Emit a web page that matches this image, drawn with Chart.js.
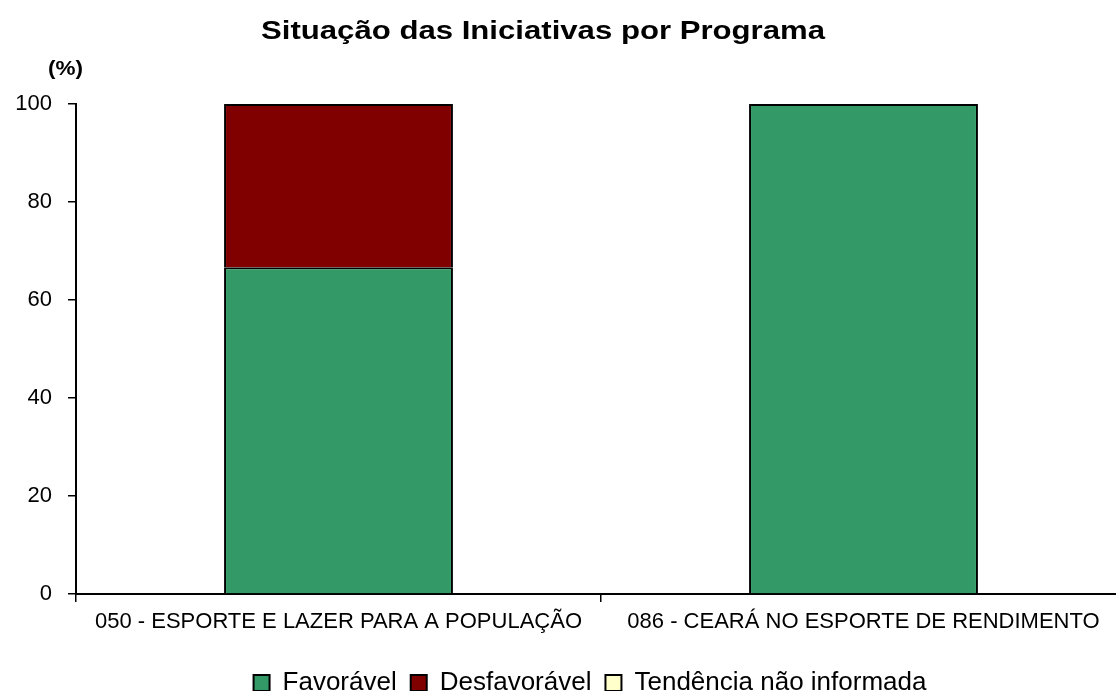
<!DOCTYPE html>
<html>
<head>
<meta charset="utf-8">
<script src="https://cdn.jsdelivr.net/npm/chart.js@4"></script>
<style>
  html, body { margin: 0; padding: 0; background: #fff; overflow: hidden; }
  #wrap { width: 1116px; height: 691px; overflow: hidden; position: relative; }
  #wrap canvas { position: absolute; left: 0; top: 0; }
</style>
</head>
<body>
<div id="wrap"><canvas id="chart" width="1140" height="706"></canvas></div>
<script>
// programas e percentuais
var programas = ['050 - ESPORTE E LAZER PARA A POPULAÇÃO', '086 - CEARÁ NO ESPORTE DE RENDIMENTO'];
var favoravel = [66.67, 100];
var desfavoravel = [33.33, 0];
var naoInformada = [0, 0];
var yTicks = [0, 20, 40, 60, 80, 100];

var FONT = '"Liberation Sans", Arial, sans-serif';

// texto esticado na horizontal, como no original
function textoLargo(ctx, txt, x, y, font, largura) {
    ctx.font = font;
    var w = ctx.measureText(txt).width;
    var sx = largura / w;
    ctx.save();
    ctx.translate(x, y);
    ctx.scale(sx, 1);
    ctx.textAlign = 'center';
    ctx.textBaseline = 'alphabetic';
    ctx.fillText(txt, 0, 0);
    ctx.restore();
}

// titulo e "(%)" desenhados a mao para ficar na posicao do original
var textosPlugin = {
    id: 'textos',
    afterDraw: function (chart) {
        var ctx = chart.ctx;
        ctx.save();
        ctx.fillStyle = '#000';
        textoLargo(ctx, 'Situação das Iniciativas por Programa', 543, 39, 'bold 25px ' + FONT, 564);
        textoLargo(ctx, '(%)', 65.5, 75, 'bold 20px ' + FONT, 35);
        ctx.restore();
    }
};

// a legenda fica um pouco a direita do centro no original
var legendaPlugin = {
    id: 'legendaDesloc',
    afterLayout: function (chart) {
        chart.legend.left += 22;
        chart.legend.right += 22;
    }
};

var ctx = document.getElementById('chart').getContext('2d');
var chart = new Chart(ctx, {
    type: 'bar',
    data: {
        labels: programas,
        datasets: [
            { label: 'Favorável', data: favoravel, backgroundColor: '#339966', borderColor: '#000', borderWidth: 2 },
            { label: 'Desfavorável', data: desfavoravel, backgroundColor: '#800000', borderColor: '#000', borderWidth: 2 },
            { label: 'Tendência não informada', data: naoInformada, backgroundColor: '#FFFFCC', borderColor: '#000', borderWidth: 2 }
        ]
    },
    options: {
        responsive: false,
        animation: false,
        layout: { padding: { top: 104, left: 10, right: 14, bottom: 0 } },
        datasets: { bar: { barPercentage: 0.436, categoryPercentage: 1 } },
        scales: {
            x: {
                stacked: true,
                grid: { drawOnChartArea: false, drawTicks: true, tickLength: 8, color: '#000', lineWidth: 1.5 },
                border: { color: '#000', width: 2 },
                ticks: { color: '#000', font: { family: FONT, size: 22 }, padding: 7, maxRotation: 0 },
                afterFit: function (s) { s.height = 62; }
            },
            y: {
                stacked: true,
                min: 0,
                max: 100,
                afterBuildTicks: function (s) { s.ticks = yTicks.map(function (v) { return { value: v }; }); },
                grid: { drawOnChartArea: false, drawTicks: true, tickLength: 8, color: '#000', lineWidth: 1.5 },
                border: { color: '#000', width: 2 },
                ticks: { color: '#000', font: { family: FONT, size: 22 }, padding: 16 },
                afterFit: function (s) { s.width = 66; }
            }
        },
        plugins: {
            legend: {
                position: 'bottom',
                labels: {
                    color: '#000',
                    font: { family: FONT, size: 26 },
                    boxWidth: 16,
                    boxHeight: 16,
                    padding: 14
                }
            },
            tooltip: { enabled: false }
        }
    },
    plugins: [textosPlugin, legendaPlugin]
});
</script>
</body>
</html>
